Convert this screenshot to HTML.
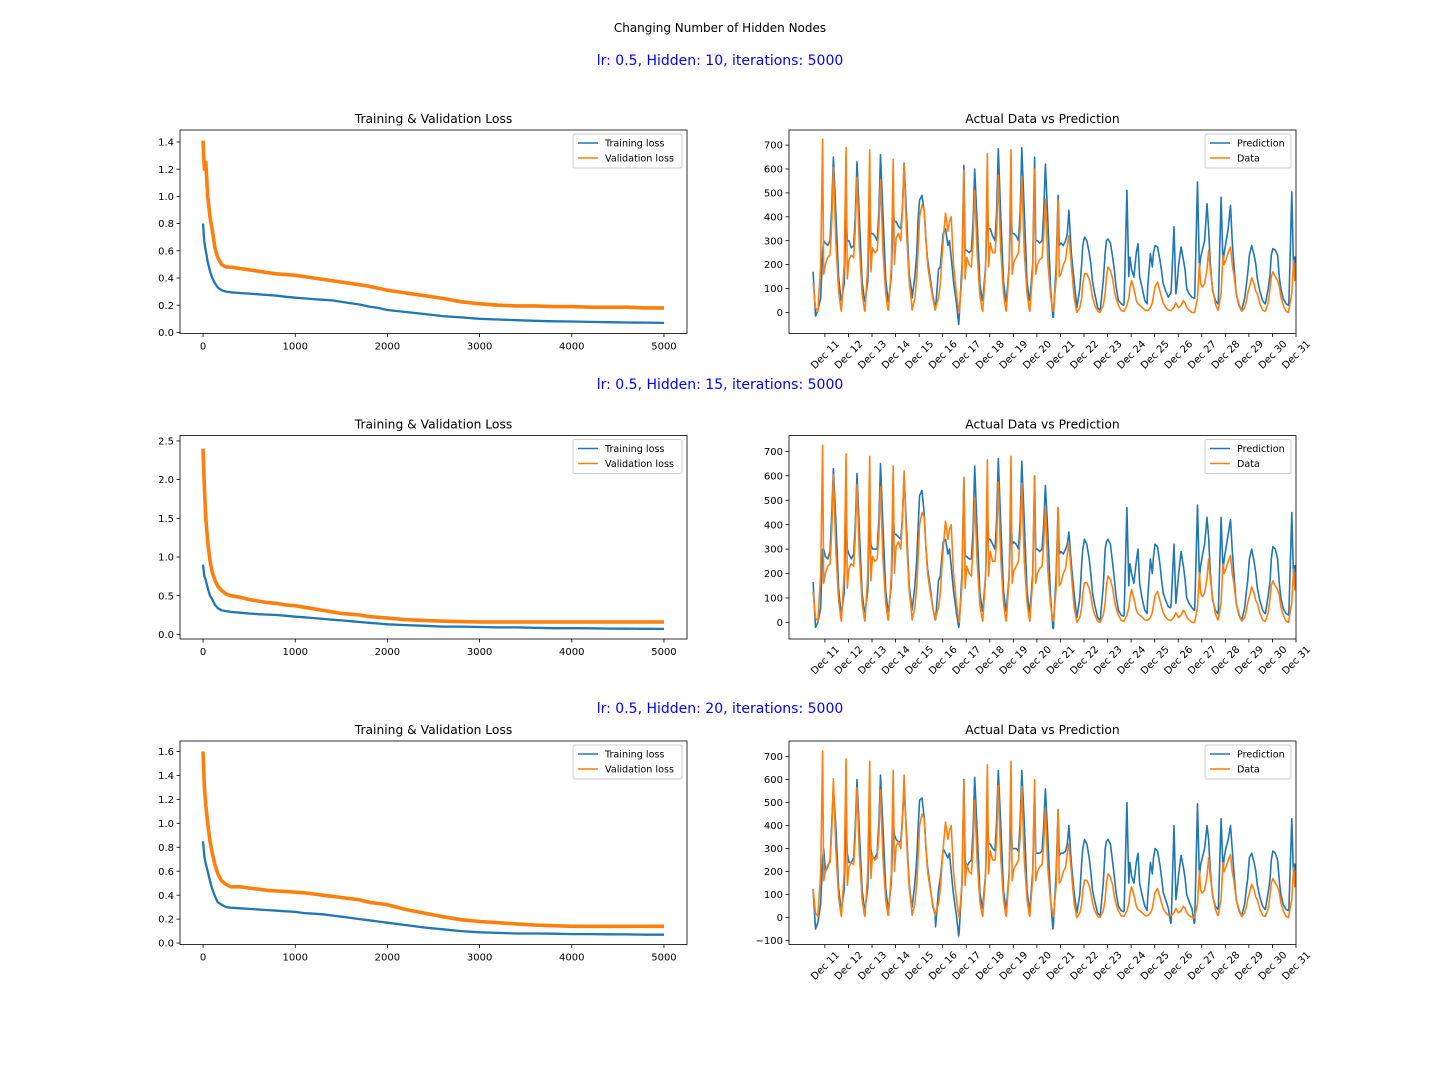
<!DOCTYPE html>
<html><head><meta charset="utf-8"><style>
html,body{margin:0;padding:0;background:#fff;}
svg{display:block;font-family:"DejaVu Sans","Liberation Sans",sans-serif;}
</style></head>
<body>
<svg id="fig" width="1440" height="1080" viewBox="0 0 1440 1080" xmlns="http://www.w3.org/2000/svg">
<rect width="1440" height="1080" fill="#fff"/>
<text x="720" y="32" font-size="12" text-anchor="middle" fill="#000">Changing Number of Hidden Nodes</text>
<text x="720" y="65" font-size="14" text-anchor="middle" fill="#0000ff">lr: 0.5, Hidden: 10, iterations: 5000</text>
<text x="720" y="389" font-size="14" text-anchor="middle" fill="#0000ff">lr: 0.5, Hidden: 15, iterations: 5000</text>
<text x="720" y="713" font-size="14" text-anchor="middle" fill="#0000ff">lr: 0.5, Hidden: 20, iterations: 5000</text>
</svg>
<script>
// ---------- Loss data ----------
const lossIters = [0,15,30,50,75,100,130,160,200,250,300,400,500,600,700,800,900,1000,1100,1200,1300,1400,1500,1600,1700,1800,1900,2000,2200,2400,2600,2800,3000,3200,3400,3600,3800,4000,4200,4400,4600,4800,5000];
const train1 = [0.80,0.66,0.60,0.52,0.45,0.40,0.36,0.33,0.31,0.30,0.295,0.29,0.285,0.28,0.275,0.27,0.262,0.255,0.25,0.245,0.24,0.235,0.225,0.215,0.205,0.19,0.18,0.165,0.15,0.135,0.12,0.11,0.10,0.095,0.09,0.085,0.082,0.08,0.077,0.075,0.073,0.072,0.07];
const val1 = [1.41,1.20,1.25,1.00,0.85,0.75,0.62,0.55,0.50,0.48,0.48,0.47,0.46,0.45,0.44,0.43,0.425,0.42,0.41,0.40,0.39,0.38,0.37,0.36,0.35,0.34,0.325,0.31,0.29,0.27,0.25,0.225,0.21,0.20,0.195,0.195,0.19,0.19,0.185,0.185,0.185,0.18,0.18];
const train2 = [0.90,0.75,0.70,0.60,0.50,0.45,0.38,0.34,0.31,0.30,0.29,0.28,0.27,0.26,0.255,0.25,0.24,0.23,0.22,0.21,0.20,0.19,0.18,0.17,0.16,0.15,0.14,0.13,0.12,0.11,0.10,0.10,0.095,0.09,0.09,0.085,0.08,0.08,0.078,0.075,0.073,0.072,0.07];
const val2 = [2.40,1.90,1.50,1.20,0.95,0.80,0.70,0.62,0.57,0.52,0.50,0.48,0.45,0.43,0.41,0.40,0.38,0.37,0.35,0.33,0.31,0.29,0.27,0.26,0.25,0.23,0.22,0.21,0.19,0.18,0.17,0.165,0.16,0.16,0.16,0.16,0.16,0.16,0.16,0.16,0.16,0.16,0.16];
const train3 = [0.85,0.72,0.66,0.60,0.52,0.45,0.39,0.34,0.32,0.30,0.295,0.29,0.285,0.28,0.275,0.27,0.265,0.26,0.25,0.245,0.24,0.23,0.22,0.21,0.20,0.19,0.18,0.17,0.15,0.13,0.115,0.10,0.09,0.085,0.08,0.08,0.078,0.075,0.075,0.073,0.072,0.07,0.07];
const val3 = [1.60,1.30,1.15,1.00,0.85,0.75,0.65,0.58,0.52,0.49,0.47,0.47,0.46,0.45,0.44,0.435,0.43,0.425,0.42,0.41,0.40,0.39,0.38,0.37,0.36,0.34,0.33,0.32,0.28,0.25,0.22,0.195,0.18,0.17,0.16,0.15,0.145,0.14,0.14,0.14,0.14,0.14,0.14];
const lossXTicks = [0,1000,2000,3000,4000,5000];
const lossYTicks1 = [0.0,0.2,0.4,0.6,0.8,1.0,1.2,1.4];
const lossYTicks2 = [0.0,0.5,1.0,1.5,2.0,2.5];
const lossYTicks3 = [0.0,0.2,0.4,0.6,0.8,1.0,1.2,1.4,1.6];

// ---------- Prediction data (t in days relative to Dec 11, one row of values per day) ----------
const cycleOffsets = [-0.30,-0.18,-0.10,-0.05,0.02,0.12,0.22,0.29,0.36,0.46,0.58,0.68];
const dateLabels = ["Dec 11","Dec 12","Dec 13","Dec 14","Dec 15","Dec 16","Dec 17","Dec 18","Dec 19","Dec 20","Dec 21","Dec 22","Dec 23","Dec 24","Dec 25","Dec 26","Dec 27","Dec 28","Dec 29","Dec 30","Dec 31"];
const dataStart = [125,20];
const dataCycles = [
[5,200,725,160,200,230,240,380,605,300,90,15],
[5,200,690,140,220,240,230,350,565,280,80,10],
[5,200,680,170,270,250,260,360,555,260,80,10],
[10,190,640,200,310,330,300,420,620,350,130,40],
[10,60,150,250,400,450,430,300,200,130,60,10],
[20,60,120,200,300,415,340,380,400,200,80,10],
[0,150,595,140,230,200,190,300,510,250,70,10],
[5,180,665,190,290,250,250,330,575,270,80,10],
[5,180,680,160,210,230,250,350,570,260,80,10],
[5,170,600,160,200,220,230,320,475,220,70,10],
[5,140,470,150,160,200,220,280,322,200,64,8],
[0,20,60,120,162,162,140,110,64,30,5,0],
[5,30,80,150,190,176,140,90,60,30,8,5],
[5,30,60,100,134,100,50,36,30,22,10,8],
[8,20,40,70,110,127,90,64,40,22,10,8],
[8,22,40,30,20,30,50,40,22,10,0,0],
[2,60,204,120,106,120,180,260,180,100,36,10],
[10,80,239,200,218,250,274,200,162,80,36,8],
[5,20,50,80,106,145,120,90,78,40,10,5],
[5,40,100,150,170,150,134,110,64,30,5,0],
[10,80,218,134,232,200,150,100,50,20,10,5]];
const pred1Start = [170,-15];
const pred1Cycles = [
[10,60,250,300,290,280,300,450,650,420,150,55],
[50,120,420,300,300,270,280,400,630,400,130,50],
[45,130,420,330,330,320,300,420,660,420,140,50],
[45,150,420,380,380,360,350,430,625,420,160,90],
[60,150,250,380,470,490,420,300,220,150,70,20],
[15,180,190,250,330,350,280,300,230,130,40,-50],
[-20,200,615,260,260,250,260,380,600,380,120,50],
[50,190,450,350,350,320,300,420,685,420,130,50],
[45,190,450,330,330,320,300,420,690,430,130,50],
[50,200,650,300,300,290,300,420,620,400,100,-20],
[-20,200,490,280,290,280,300,330,427,250,134,36],
[20,100,204,280,315,300,250,204,130,78,20,8],
[20,134,250,300,307,290,230,176,110,50,36,30],
[36,511,150,232,180,148,250,288,150,106,50,36],
[100,246,190,250,280,274,220,176,120,92,64,80],
[92,358,78,120,200,274,220,176,100,78,64,60],
[60,546,176,230,260,300,455,350,204,92,50,36],
[36,483,204,250,288,350,448,300,204,78,30,8],
[10,60,120,162,240,280,240,204,140,92,50,36],
[36,100,162,240,267,260,240,148,100,57,36,30],
[40,504,162,232,200,180,150,100,60,40,30,30]];
const pred2Start = [165,-20];
const pred2Cycles = [
[0,60,300,300,270,260,290,450,630,420,140,40],
[40,120,440,300,280,260,280,400,610,380,120,40],
[40,130,440,320,300,300,300,420,650,400,130,45],
[45,150,430,360,360,350,340,430,600,400,150,70],
[50,150,260,380,520,540,440,300,220,150,60,10],
[10,170,190,250,330,340,280,300,230,130,40,-20],
[-10,200,590,270,270,260,260,380,640,380,120,50],
[45,190,450,340,340,320,300,420,670,420,130,50],
[45,190,450,320,330,320,300,420,660,420,130,40],
[40,200,600,300,300,290,300,400,560,380,100,-25],
[-25,200,470,280,290,280,300,320,370,240,120,30],
[20,100,240,300,340,320,260,200,120,70,20,8],
[20,150,300,330,340,320,240,176,110,50,30,25],
[30,470,150,240,200,160,250,300,160,100,50,36],
[90,260,200,270,320,310,240,176,120,92,64,60],
[80,320,78,130,200,290,230,176,100,78,60,50],
[50,480,180,230,270,320,430,350,204,92,50,36],
[36,430,210,260,300,360,420,300,204,78,30,8],
[10,60,130,170,260,300,250,204,140,92,50,36],
[36,110,170,260,310,300,260,160,100,57,36,30],
[40,450,162,232,200,180,150,100,60,40,30,30]];
const pred3Start = [125,-50];
const pred3Cycles = [
[-20,60,250,300,200,220,250,420,560,400,130,40],
[35,120,420,280,240,240,260,400,600,380,120,35],
[35,130,420,300,260,260,280,420,620,400,130,40],
[40,150,420,360,340,330,330,430,560,380,150,50],
[45,150,260,380,510,520,430,300,220,140,50,10],
[-40,120,170,220,300,280,260,280,200,100,10,-80],
[-60,150,600,250,220,240,250,380,610,380,110,40],
[45,190,450,320,320,300,290,420,640,420,120,40],
[40,190,450,300,300,300,290,420,640,420,120,30],
[30,200,560,280,280,280,290,400,560,360,80,-50],
[-30,200,470,270,280,280,290,320,400,240,110,30],
[20,100,240,300,340,320,260,200,120,70,20,8],
[20,150,300,330,340,320,240,176,110,50,30,25],
[30,500,150,240,180,150,240,280,150,100,50,30],
[80,240,190,260,300,290,230,176,110,80,40,-25],
[-20,400,78,120,190,270,220,170,100,70,40,-25],
[-20,495,170,230,260,300,400,340,204,92,50,36],
[36,430,210,260,300,340,400,300,204,78,30,8],
[10,60,130,170,260,280,240,204,140,92,50,36],
[36,110,170,250,290,280,250,160,100,57,36,30],
[40,430,162,232,200,180,150,100,60,40,30,30]];
const predYTicks = [0,100,200,300,400,500,600,700];
const predYTicks3 = [-100,0,100,200,300,400,500,600,700];

// ---------- drawing ----------
const NS = "http://www.w3.org/2000/svg";
const svg = document.getElementById("fig");
const BLUE = "#1f77b4", ORANGE = "#ff7f0e";
function mk(tag, attrs, parent){
  const e = document.createElementNS(NS, tag);
  for (const k in attrs) e.setAttribute(k, attrs[k]);
  (parent||svg).appendChild(e);
  return e;
}
function linearScale(d0,d1,r0,r1){ return v => r0 + (v-d0)/(d1-d0)*(r1-r0); }

function buildSeries(start, cycles){
  const t=[-0.5,-0.4], v=[start[0],start[1]];
  cycles.forEach((row,k)=>{ row.forEach((val,j)=>{ t.push(k+cycleOffsets[j]); v.push(val); }); });
  return {t,v};
}

let clipId = 0;
function axesFrame(g, x0,y0,x1,y1){
  const id = "clip"+(clipId++);
  const cp = mk("clipPath",{id:id},g);
  mk("rect",{x:x0,y:y0,width:x1-x0,height:y1-y0},cp);
  return id;
}

function yTicks(g, ticks, ys, x0, fmt){
  ticks.forEach(tv=>{
    const y = ys(tv);
    mk("line",{x1:x0-3.5,x2:x0,y1:y,y2:y,stroke:"#000","stroke-width":0.8},g);
    const tx = mk("text",{x:x0-6,y:y+3.6,"font-size":"10","text-anchor":"end",fill:"#000"},g);
    tx.textContent = fmt(tv);
  });
}

function legend(g, x, y, w, labels){
  const box = mk("rect",{x:x,y:y,width:w,height:34,fill:"#fff","fill-opacity":0.8,stroke:"#ccc","stroke-width":1,rx:2},g);
  
  
  labels.forEach((lb,i)=>{
    const yy = y+9+i*15;
    const ln = mk("line",{x1:x+5,x2:x+25,y1:yy,y2:yy,stroke:lb[1],"stroke-width":1.5},g);
    
    
    const t = mk("text",{x:x+32,y:yy+3.5,"font-size":"9.6",fill:"#000"},g);
    
    
    t.textContent = lb[0];
  });
}

function lossPlot(row, top, tr, va, yDom, yTickArr){
  const x0=180,x1=687,y0=top,y1=top+203.5;
  const g = mk("g",{});
  
  
  const xs = linearScale(-250,5250,x0,x1);
  const ys = linearScale(yDom[0],yDom[1],y1,y0);
  const cid = axesFrame(g,x0,y0,x1,y1);
  const title = mk("text",{x:(x0+x1)/2,y:y0-7,"font-size":"12.3","text-anchor":"middle",fill:"#000"},g);
  
  
  title.textContent = "Training & Validation Loss";
  const pts = arr => arr.map((v,i)=>xs(lossIters[i]).toFixed(1)+","+ys(v).toFixed(1)).join(" ");
  const vl = mk("polyline",{points:pts(va),fill:"none",stroke:ORANGE,"stroke-width":3.6,"stroke-linejoin":"round","clip-path":"url(#"+cid+")"},g);
  
  
  const tl = mk("polyline",{points:pts(tr),fill:"none",stroke:BLUE,"stroke-width":2.3,"stroke-linejoin":"round","clip-path":"url(#"+cid+")"},g);
  
  
  mk("rect",{x:x0,y:y0,width:x1-x0,height:y1-y0,fill:"none",stroke:"#000","stroke-width":0.8},g);
  lossXTicks.forEach(tv=>{
    const x = xs(tv);
    mk("line",{x1:x,x2:x,y1:y1,y2:y1+3.5,stroke:"#000","stroke-width":0.8},g);
    const t = mk("text",{x:x,y:y1+16,"font-size":"10","text-anchor":"middle",fill:"#000"},g);
    t.textContent = tv;
  });
  yTicks(g, yTickArr, ys, x0, v=>v.toFixed(1));
  legend(g, 573, y0+4, 109, [["Training loss",BLUE],["Validation loss",ORANGE]]);
}

function predPlot(row, top, predStart, predCycles, yDom, yTickArr){
  const x0=789,x1=1296,y0=top,y1=top+203.5;
  const g = mk("g",{});
  
  
  const xs = linearScale(-1.525,20.0,x0,x1);
  const ys = linearScale(yDom[0],yDom[1],y1,y0);
  const cid = axesFrame(g,x0,y0,x1,y1);
  const title = mk("text",{x:(x0+x1)/2,y:y0-7,"font-size":"12.3","text-anchor":"middle",fill:"#000"},g);
  
  
  title.textContent = "Actual Data vs Prediction";
  const p = buildSeries(predStart, predCycles);
  const d = buildSeries(dataStart, dataCycles);
  const pts = s => s.t.map((t,i)=>xs(t).toFixed(1)+","+ys(s.v[i]).toFixed(1)).join(" ");
  const pl = mk("polyline",{points:pts(p),fill:"none",stroke:BLUE,"stroke-width":1.6,"stroke-linejoin":"round","clip-path":"url(#"+cid+")"},g);
  
  
  const dl = mk("polyline",{points:pts(d),fill:"none",stroke:ORANGE,"stroke-width":1.6,"stroke-linejoin":"round","clip-path":"url(#"+cid+")"},g);
  
  
  mk("rect",{x:x0,y:y0,width:x1-x0,height:y1-y0,fill:"none",stroke:"#000","stroke-width":0.8},g);
  dateLabels.forEach((lb,i)=>{
    const x = xs(i);
    mk("line",{x1:x,x2:x,y1:y1,y2:y1+3.5,stroke:"#000","stroke-width":0.8},g);
    const cy = y1+21;
    const t = mk("text",{x:x,y:cy+3.5,"font-size":"10","text-anchor":"middle",fill:"#000",transform:"rotate(-45 "+x+" "+cy+")"},g);
    t.textContent = lb;
  });
  yTicks(g, yTickArr, ys, x0, v=>(v<0?"\u2212"+(-v):String(v)));
  legend(g, 1205, y0+4, 86, [["Prediction",BLUE],["Data",ORANGE]]);
}

lossPlot(1,130,train1,val1,[-0.008,1.488],lossYTicks1);
lossPlot(2,435.5,train2,val2,[-0.06,2.57],lossYTicks2);
lossPlot(3,741,train3,val3,[-0.012,1.687],lossYTicks3);
predPlot(1,130,pred1Start,pred1Cycles,[-88,763],predYTicks);
predPlot(2,435.5,pred2Start,pred2Cycles,[-68,765],predYTicks);
predPlot(3,741,pred3Start,pred3Cycles,[-117,768],predYTicks3);
</script>
</body></html>
